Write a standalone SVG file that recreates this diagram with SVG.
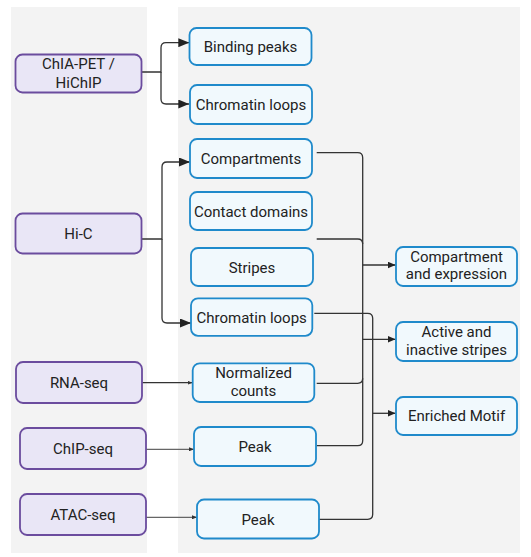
<svg xmlns="http://www.w3.org/2000/svg" width="531" height="557" viewBox="0 0 531 557">
<style>
  .panel{fill:#f3f3f3;stroke:none}
  .src rect{fill:#e9e6f6;stroke:#6b4c9e;stroke-width:1.8}
  .mid rect,.out rect{fill:#f1f9fd;stroke:#1f8acb;stroke-width:1.8}
  text{font-family:Roboto,"Liberation Sans",sans-serif;font-size:15px;fill:#222;text-anchor:middle}
  .c{fill:none;stroke:#333;stroke-width:1.3}
  .g{fill:none;stroke:#666;stroke-width:1.3}
</style>
<defs>
  <marker id="big" markerUnits="userSpaceOnUse" markerWidth="11" markerHeight="9" refX="11" refY="4.5" orient="auto">
    <path d="M0,0 L11,4.5 L0,9 z" fill="#222"/>
  </marker>
  <marker id="med" markerUnits="userSpaceOnUse" markerWidth="8" markerHeight="7" refX="8" refY="3.5" orient="auto">
    <path d="M0,0 L8,3.5 L0,7 z" fill="#222"/>
  </marker>
  <marker id="sm" markerUnits="userSpaceOnUse" markerWidth="5" markerHeight="4" refX="5" refY="2" orient="auto">
    <path d="M0,0 L5,2 L0,4 z" fill="#333"/>
  </marker>
</defs>
<rect class="panel" x="11" y="7" width="136" height="546"/>
<rect class="panel" x="178" y="7" width="342" height="546"/>

<g id="connectors">
  <path class="c" d="M141.7,72 H161 V47.7 Q161,42.7 166,42.7 H189.3" marker-end="url(#big)"/>
  <path class="c" d="M161,72 V99 Q161,104 166,104 H189.3" marker-end="url(#big)"/>
  <path class="c" d="M141.5,239 H162 V167 Q162,162 167,162 H190" marker-end="url(#big)"/>
  <path class="c" d="M162,239 V318 Q162,323 167,323 H191" marker-end="url(#big)"/>
  <path class="c" d="M142.3,382.7 H192.5" marker-end="url(#sm)"/>
  <path class="g" d="M144,449.3 H194" marker-end="url(#sm)"/>
  <path class="g" d="M146,517.3 H197" marker-end="url(#sm)"/>
  <path class="c" d="M316.7,152.7 H357.7 Q362.7,152.7 362.7,157.7 V440.7 Q362.7,445.7 357.7,445.7 H316.7"/>
  <path class="c" d="M316.7,239 H357.7 Q362.7,239 362.7,244"/>
  <path class="c" d="M316.7,383.3 H357.7 Q362.7,383.3 362.7,378.3"/>
  <path class="c" d="M314.3,313.3 H367.7 Q372.7,313.3 372.7,318.3 V514.3 Q372.7,519.3 367.7,519.3 H315"/>
  <path class="c" d="M362.7,265 H395.5" marker-end="url(#med)"/>
  <path class="c" d="M362.7,339.3 H395.5" marker-end="url(#med)"/>
  <path class="c" d="M372.7,413.3 H395.5" marker-end="url(#med)"/>
</g>

<g id="n-chiapet" class="src"><rect x="15.5" y="54.5" width="126" height="38" rx="7"/><text x="78.5" y="68.5">ChIA-PET /</text><text x="78.5" y="87.5">HiChIP</text></g>
<g id="n-hic" class="src"><rect x="15.5" y="213.5" width="126" height="40" rx="7"/><text x="78.5" y="239">Hi-C</text></g>
<g id="n-rnaseq" class="src"><rect x="16" y="362" width="126" height="41" rx="7"/><text x="79" y="388">RNA-seq</text></g>
<g id="n-chipseq" class="src"><rect x="20" y="428" width="126" height="41" rx="7"/><text x="83" y="454">ChIP-seq</text></g>
<g id="n-atacseq" class="src"><rect x="20" y="494" width="126" height="41" rx="7"/><text x="83" y="520">ATAC-seq</text></g>

<g id="n-binding" class="mid"><rect x="189.5" y="28" width="122" height="37" rx="7"/><text x="250.5" y="52">Binding peaks</text></g>
<g id="n-loops1" class="mid"><rect x="190" y="85" width="122" height="39" rx="7"/><text x="251" y="110">Chromatin loops</text></g>
<g id="n-compartments" class="mid"><rect x="190" y="139" width="122" height="39" rx="7"/><text x="251" y="163.5">Compartments</text></g>
<g id="n-domains" class="mid"><rect x="190" y="192" width="122" height="38" rx="7"/><text x="251" y="216.5">Contact domains</text></g>
<g id="n-stripes" class="mid"><rect x="191" y="248" width="122" height="38" rx="7"/><text x="252" y="272.5">Stripes</text></g>
<g id="n-loops2" class="mid"><rect x="191" y="298.3" width="121.3" height="37.5" rx="7"/><text x="251.7" y="322.5">Chromatin loops</text></g>
<g id="n-counts" class="mid"><rect x="192.7" y="363.3" width="121.6" height="38.7" rx="7"/><text x="253.5" y="377.5">Normalized</text><text x="253.5" y="395.5">counts</text></g>
<g id="n-peak1" class="mid"><rect x="194" y="427" width="122" height="39" rx="7"/><text x="255" y="452">Peak</text></g>
<g id="n-peak2" class="mid"><rect x="197" y="499.5" width="122" height="39" rx="7"/><text x="258" y="524.5">Peak</text></g>

<g id="n-compexp" class="out"><rect x="396" y="247" width="121" height="39" rx="7"/><text x="456.5" y="261.5">Compartment</text><text x="456.5" y="279">and expression</text></g>
<g id="n-stripesout" class="out"><rect x="396" y="322" width="121" height="39" rx="7"/><text x="456.5" y="336.5">Active and</text><text x="456.5" y="354.5">inactive stripes</text></g>
<g id="n-motif" class="out"><rect x="396" y="397" width="121" height="38" rx="7"/><text x="456.5" y="421">Enriched Motif</text></g>
</svg>
